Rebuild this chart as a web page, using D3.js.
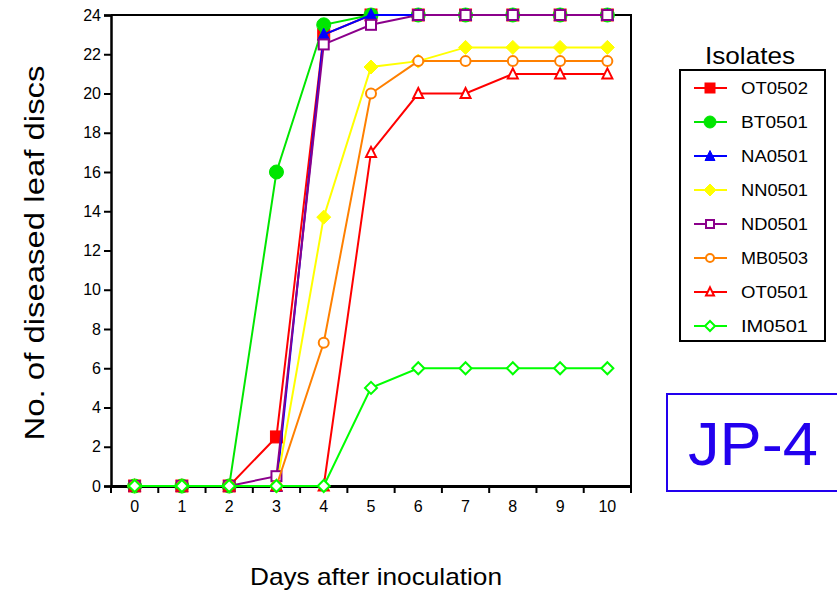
<!DOCTYPE html>
<html lang="en">
<head>
<meta charset="utf-8"/>
<title>JP-4 disease progress</title>
<script src="https://cdnjs.cloudflare.com/ajax/libs/d3/7.8.5/d3.min.js"></script>
<style>
	body { margin: 0; background: #fff; }
	text { font-family: "Liberation Sans", Arial, sans-serif; }
</style>
</head>
<body>
<div id="chart"></div>
<script>
// days after inoculation
var days = [0, 1, 2, 3, 4, 5, 6, 7, 8, 9, 10];
var yTicks = [0, 2, 4, 6, 8, 10, 12, 14, 16, 18, 20, 22, 24];

// number of diseased leaf discs, per isolate
var OT0502 = [0, 0, 0, 2.5, 23, 24, 24, 24, 24, 24, 24];
var BT0501 = [0, 0, 0, 16, 23.5, 24, 24, 24, 24, 24, 24];
var NA0501 = [0, 0, 0, 0, 23, 24, 24, 24, 24, 24, 24];
var NN0501 = [0, 0, 0, 0, 13.7, 21.35, 21.65, 22.35, 22.35, 22.35, 22.35];
var ND0501 = [0, 0, 0, 0.5, 22.5, 23.5, 24, 24, 24, 24, 24];
var MB0503 = [0, 0, 0, 0, 7.3, 20, 21.65, 21.65, 21.65, 21.65, 21.65];
var OT0501 = [0, 0, 0, 0, 0, 17, 20, 20, 21, 21, 21];
var IM0501 = [0, 0, 0, 0, 0, 5, 6, 6, 6, 6, 6];

var series = [
	{name: "OT0502", values: OT0502, color: "#ff0000", shape: "square", filled: true},
	{name: "BT0501", values: BT0501, color: "#00e600", shape: "circle", filled: true},
	{name: "NA0501", values: NA0501, color: "#0000ff", shape: "triangle", filled: true},
	{name: "NN0501", values: NN0501, color: "#ffff00", shape: "diamond", filled: true},
	{name: "ND0501", values: ND0501, color: "#8b008b", shape: "square", filled: false},
	{name: "MB0503", values: MB0503, color: "#ff8000", shape: "circle", filled: false},
	{name: "OT0501", values: OT0501, color: "#ff0000", shape: "triangle", filled: false},
	{name: "IM0501", values: IM0501, color: "#00ff00", shape: "diamond", filled: false}
];

var W = 837, H = 591;
var pLeft = 111, pRight = 631, pTop = 15, pBottom = 486;

var svg = d3.select("#chart").append("svg")
	.attr("width", W).attr("height", H);

var x = d3.scaleBand().domain(days).range([pLeft, pRight]);
var y = d3.scaleLinear().domain([0, 24]).range([pBottom, pTop]);

// frame: top and right lines
svg.append("path")
	.attr("d", "M" + pLeft + "," + pTop + "H" + pRight + "V" + pBottom)
	.attr("fill", "none").attr("stroke", "#000").attr("stroke-width", 2);

// y axis
var yAxis = svg.append("g")
	.attr("transform", "translate(" + pLeft + ",0)")
	.call(d3.axisLeft(y).tickValues(yTicks).tickSize(7).tickPadding(3))
	.attr("font-size", 16).attr("font-family", "Liberation Sans, Arial, sans-serif");
yAxis.select(".domain").attr("stroke-width", 2.5);
yAxis.selectAll(".tick line").attr("stroke-width", 2);
yAxis.selectAll("text").attr("fill", "#000");

// x axis, ticks on band edges
var xAxis = svg.append("g")
	.attr("transform", "translate(0," + pBottom + ")")
	.call(d3.axisBottom(x).tickSize(0).tickPadding(15))
	.attr("font-size", 16).attr("font-family", "Liberation Sans, Arial, sans-serif");
xAxis.select(".domain").attr("stroke-width", 3);
xAxis.selectAll("text").attr("fill", "#000");
var edges = days.map(function(d) { return x(d); }).concat([pRight]);
xAxis.selectAll(".edge").data(edges).enter().append("line")
	.attr("class", "edge")
	.attr("x1", function(d) { return d; }).attr("x2", function(d) { return d; })
	.attr("y1", 0).attr("y2", 7)
	.attr("stroke", "#000").attr("stroke-width", 2);

// axis titles
svg.append("text")
	.attr("transform", "translate(44," + 253 + ") rotate(-90)")
	.attr("text-anchor", "middle")
	.attr("textLength", 375).attr("lengthAdjust", "spacingAndGlyphs")
	.style("font-size", "28px")
	.text("No. of diseased leaf discs");
svg.append("text")
	.attr("x", 376).attr("y", 585)
	.attr("text-anchor", "middle")
	.attr("textLength", 252).attr("lengthAdjust", "spacingAndGlyphs")
	.style("font-size", "24px")
	.text("Days after inoculation");

function marker(g, s, size) {
	var m;
	if (s.shape === "square") {
		m = g.append("rect").attr("x", -size / 2).attr("y", -size / 2)
			.attr("width", size).attr("height", size);
	} else if (s.shape === "circle") {
		m = g.append("circle").attr("r", size / 2 + (s.filled ? 1 : 0));
	} else if (s.shape === "triangle") {
		var h = size * 0.9;
		m = g.append("path").attr("d", "M0," + (-h / 2 - 1) + "L" + (size / 2) + "," + (h / 2) + "L" + (-size / 2) + "," + (h / 2) + "Z");
	} else {
		var r = size / 2 + 1;
		m = g.append("path").attr("d", "M0," + (-r) + "L" + r + ",0L0," + r + "L" + (-r) + ",0Z");
	}
	m.attr("fill", s.filled ? s.color : "#fff")
		.attr("stroke", s.color)
		.attr("stroke-width", s.filled ? 1 : 2);
}

var line = d3.line()
	.x(function(d, i) { return x(days[i]) + x.bandwidth() / 2; })
	.y(function(d) { return y(d); });

series.forEach(function(s) {
	var g = svg.append("g");
	g.append("path")
		.attr("d", line(s.values))
		.attr("fill", "none")
		.attr("stroke", s.color)
		.attr("stroke-width", 2);
	s.values.forEach(function(v, i) {
		var mg = g.append("g")
			.attr("transform", "translate(" + (x(days[i]) + x.bandwidth() / 2) + "," + y(v) + ")");
		marker(mg, s, s.filled ? 12 : 10);
	});
});

// legend
svg.append("text")
	.attr("x", 750).attr("y", 64)
	.attr("text-anchor", "middle")
	.attr("textLength", 90).attr("lengthAdjust", "spacingAndGlyphs")
	.style("font-size", "24px")
	.text("Isolates");
svg.append("rect")
	.attr("x", 680).attr("y", 70).attr("width", 145).attr("height", 271)
	.attr("fill", "none").attr("stroke", "#000").attr("stroke-width", 2);
series.forEach(function(s, i) {
	var ly = 88 + i * 34;
	var g = svg.append("g");
	g.append("line")
		.attr("x1", 694).attr("x2", 727).attr("y1", ly).attr("y2", ly)
		.attr("stroke", s.color).attr("stroke-width", 2);
	var mg = g.append("g").attr("transform", "translate(710," + ly + ")");
	marker(mg, s, s.filled ? 10 : 8);
	g.append("text")
		.attr("x", 741).attr("y", ly + 6)
		.attr("textLength", 67).attr("lengthAdjust", "spacingAndGlyphs")
		.style("font-size", "16px")
		.text(s.name);
});

// JP-4 label
svg.append("rect")
	.attr("x", 667).attr("y", 394).attr("width", 180).attr("height", 97)
	.attr("fill", "none").attr("stroke", "#2200ee").attr("stroke-width", 2);
svg.append("text")
	.attr("x", 688).attr("y", 465)
	.attr("fill", "#2200ee")
	.attr("textLength", 130).attr("lengthAdjust", "spacingAndGlyphs")
	.style("font-size", "62px")
	.text("JP-4");
</script>
</body>
</html>
